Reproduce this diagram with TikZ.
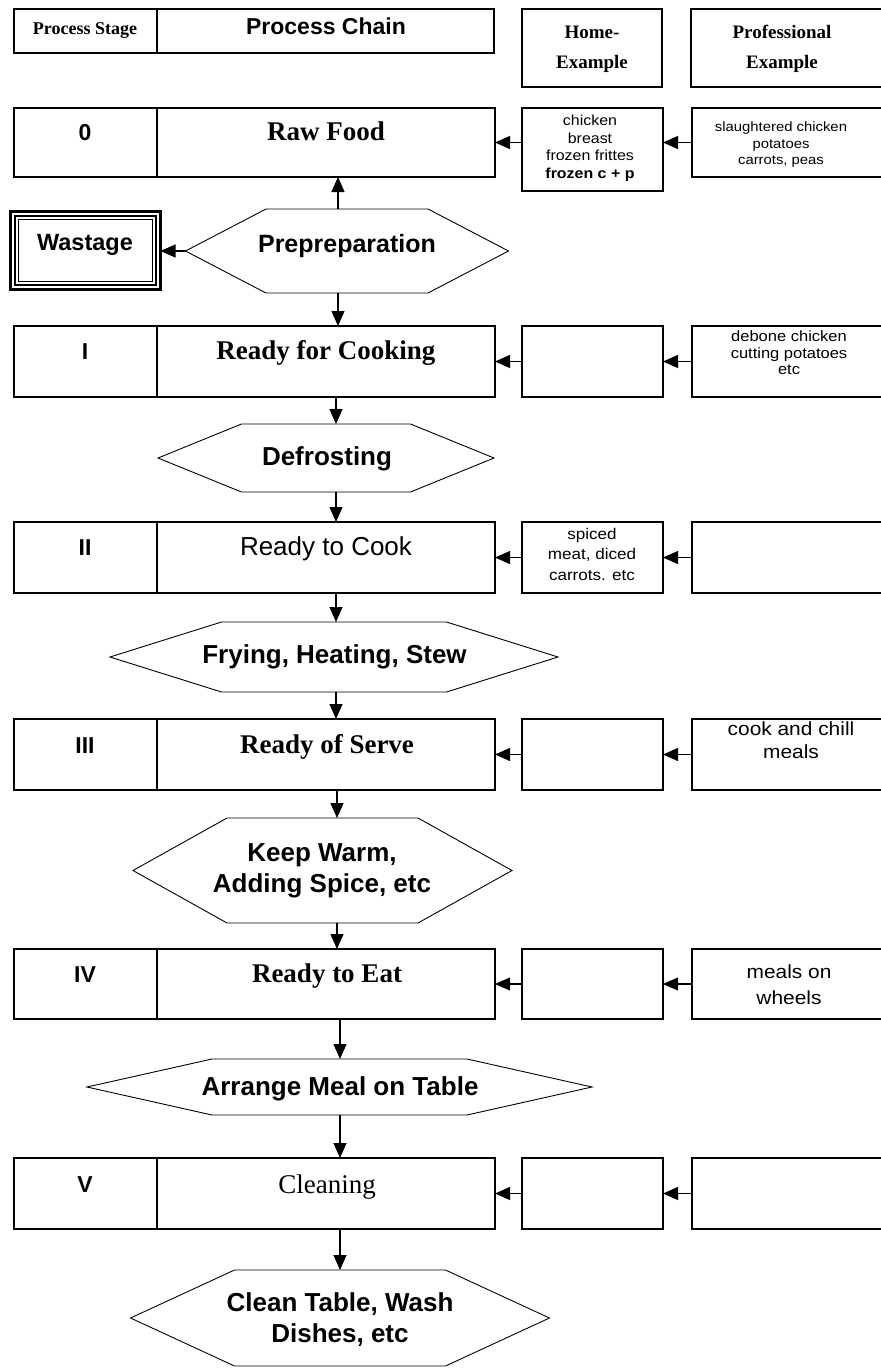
\documentclass[tikz,border=0pt]{standalone}
\usepackage{fontspec}
\setmainfont{Liberation Serif}
\setsansfont{Liberation Sans}
\newfontfamily\sw[FakeStretch=1.1]{Liberation Sans}
\usetikzlibrary{arrows.meta,fit}
\newcommand\hexa[7]{%
  \draw[hexline] (#2-#4,#3) coordinate (#1-l) -- (#2-#5,#3-#6) -- (#2+#5,#3-#6)
     -- (#2+#4,#3) coordinate (#1-r) -- (#2+#5,#3+#6) -- (#2-#5,#3+#6) -- cycle;
  \coordinate (#1-t) at (#7,#3-#6);
  \coordinate (#1-b) at (#7,#3+#6);}
\newcommand\chainrow[3]{%
  \node[box, fit={(14,#2) (157,#3)}] (s#1) {};
  \node[box, fit={(157,#2) (495,#3)}] (c#1) {};}
\newcommand\siderow[4]{%
  \node[box, fit={(522,#2) (663,#4)}] (h#1) {};
  \node[box, fit={(692,#2) (905,#3)}] (p#1) {};}
\begin{document}
\begin{tikzpicture}[x=1pt,y=-1pt,
  box/.style={draw, line width=1.2pt, inner sep=0pt, outer sep=0pt, rectangle},
  arr/.style={-{Triangle[length=15pt,width=13pt]}, line width=1.1pt},
  hexline/.style={line width=0.9pt},
  serb/.style={font=\fontsize{27}{27}\selectfont\rmfamily\bfseries, anchor=base, inner sep=0pt},
  stg/.style={font=\fontsize{23}{23}\selectfont\sffamily\bfseries, anchor=base, inner sep=0pt},
  hext/.style={font=\fontsize{26}{31}\selectfont\sffamily\bfseries, align=center, inner sep=0pt},
  hdr/.style={font=\fontsize{19}{30}\selectfont\rmfamily\bfseries, align=center, inner sep=0pt},
  small/.style={align=center, inner sep=0pt}
]
\useasboundingbox (0,0) rectangle (881,1369);
\clip (0,0) rectangle (881,1369);

% header
\node[box, fit={(14,9) (157,53)}] (shdr) {};
\node[box, fit={(157,9) (494,53)}] (chdr) {};
\node[box, fit={(522,9) (662,87)}] (hhdr) {};
\node[box, fit={(691,9) (905,87)}] (phdr) {};
\node[anchor=base, inner sep=0pt, font=\fontsize{18}{18}\selectfont\rmfamily\bfseries] (tsh) at (85,34) {Process Stage};
\node[anchor=base, inner sep=0pt, font=\fontsize{23}{23}\selectfont\sffamily\bfseries] (tch) at (326,34) {Process Chain};
\node[hdr] (thh) at (592,48.8) {Home-\\Example};
\node[hdr] (tph) at (782,48.5) {Professional\\Example};

% rows
\chainrow{0}{108}{177}
\chainrow{1}{326}{397}
\chainrow{2}{522}{593}
\chainrow{3}{719}{790}
\chainrow{4}{949}{1019}
\chainrow{5}{1158}{1229}
\siderow{0}{108}{177}{191}
\siderow{1}{326}{397}{397}
\siderow{2}{522}{593}{593}
\siderow{3}{719}{790}{790}
\siderow{4}{949}{1019}{1019}
\siderow{5}{1158}{1229}{1229}

% stage labels
\node[stg] (ts0) at (85,140) {0};
\node[stg] (ts1) at (85,359) {I};
\node[stg] (ts2) at (85,555) {II};
\node[stg] (ts3) at (85,753) {III};
\node[stg] (ts4) at (85,982) {IV};
\node[stg] (ts5) at (85,1192) {V};

% chain labels
\node[serb] (tc0) at (326,140) {Raw Food};
\node[serb] (tc1) at (326,359) {Ready for Cooking};
\node[anchor=base, inner sep=0pt, font=\fontsize{26}{26}\selectfont\sffamily] (tc2) at (326,555) {Ready to Cook};
\node[serb] (tc3) at (327,753) {Ready of Serve};
\node[serb] (tc4) at (327,982) {Ready to Eat};
\node[anchor=base, inner sep=0pt, font=\fontsize{27}{27}\selectfont\rmfamily] (tc5) at (327,1193) {Cleaning};

% side texts
\node[small, font=\sw\fontsize{14.5}{17.5}\selectfont] (th0) at (590,148) {chicken\\breast\\frozen frittes\\\textbf{frozen c + p}};
\node[small, font=\sw\fontsize{13.5}{16.5}\selectfont] (tp0) at (781,145) {slaughtered chicken\\potatoes\\carrots, peas};
\node[small, font=\sw\fontsize{15}{16.5}\selectfont] (tp1) at (789,353) {debone chicken\\cutting potatoes\\etc};
\node[small, font=\sw\fontsize{15.5}{20.5}\selectfont] (th2) at (592,554) {spiced\\meat, diced\\carrots. etc};
\node[small, font=\sw\fontsize{19}{23}\selectfont] (tp3) at (791,740) {cook and chill\\meals};
\node[small, font=\sw\fontsize{19}{26}\selectfont] (tp4) at (789,985) {meals on\\wheels};

% wastage
\node[box, line width=3pt, fit={(10.3,211.5) (160.5,289.5)}] (waste) {};
\draw[line width=2pt] ([shift={(4.2,4.2)}]waste.north west) rectangle ([shift={(-4.2,-4.2)}]waste.south east);
\draw[line width=1.3pt] ([shift={(8.2,8.2)}]waste.north west) rectangle ([shift={(-8.2,-8.2)}]waste.south east);
\node[anchor=base, inner sep=0pt, font=\fontsize{23.5}{23.5}\selectfont\sffamily\bfseries] (tw) at (85,250) {Wastage};

% hexagons
\hexa{prep}{347}{251}{161.5}{81}{42}{338}
\hexa{def}{326}{458}{168}{84.5}{34}{336}
\hexa{fry}{334}{657}{224}{112.5}{35}{336}
\hexa{keep}{322.5}{870.5}{189.5}{95.5}{52.5}{337}
\hexa{arr}{339.5}{1087}{252.5}{127.5}{28}{340}
\hexa{cln}{340}{1318}{209.5}{105.5}{48}{340}

\node[anchor=base, inner sep=0pt, font=\fontsize{25}{25}\selectfont\sffamily\bfseries] (tprep) at (347,252) {Prepreparation};
\node[anchor=base, inner sep=0pt, font=\fontsize{26}{26}\selectfont\sffamily\bfseries] (tdef) at (327,465) {Defrosting};
\node[anchor=base, inner sep=0pt, font=\fontsize{26}{26}\selectfont\sffamily\bfseries] (tfry) at (334.5,663) {Frying, Heating, Stew};
\node[hext] (tkeep) at (322,871) {Keep Warm,\\Adding Spice, etc};
\node[anchor=base, inner sep=0pt, font=\fontsize{26}{26}\selectfont\sffamily\bfseries] (tarr) at (340,1095) {Arrange Meal on Table};
\node[hext] (tcln) at (340,1320) {Clean Table, Wash\\Dishes, etc};

% vertical connectors
\draw[arr] (prep-t) -- (c0.south -| prep-t);
\draw[arr] (prep-l) -- (waste.east |- prep-l);
\draw[arr] (prep-b) -- (c1.north -| prep-b);
\draw[arr] (c1.south -| def-t) -- (def-t);
\draw[arr] (def-b) -- (c2.north -| def-b);
\draw[arr] (c2.south -| fry-t) -- (fry-t);
\draw[arr] (fry-b) -- (c3.north -| fry-b);
\draw[arr] (c3.south -| keep-t) -- (keep-t);
\draw[arr] (keep-b) -- (c4.north -| keep-b);
\draw[arr] (c4.south -| arr-t) -- (arr-t);
\draw[arr] (arr-b) -- (c5.north -| arr-b);
\draw[arr] (c5.south -| cln-t) -- (cln-t);

% horizontal connectors
\foreach \i in {0,...,5}{
  \draw[arr] (h\i.west |- c\i.east) -- (c\i.east);
  \draw[arr] (p\i.west) -- (h\i.east |- p\i.west);
}
\end{tikzpicture}
\end{document}
